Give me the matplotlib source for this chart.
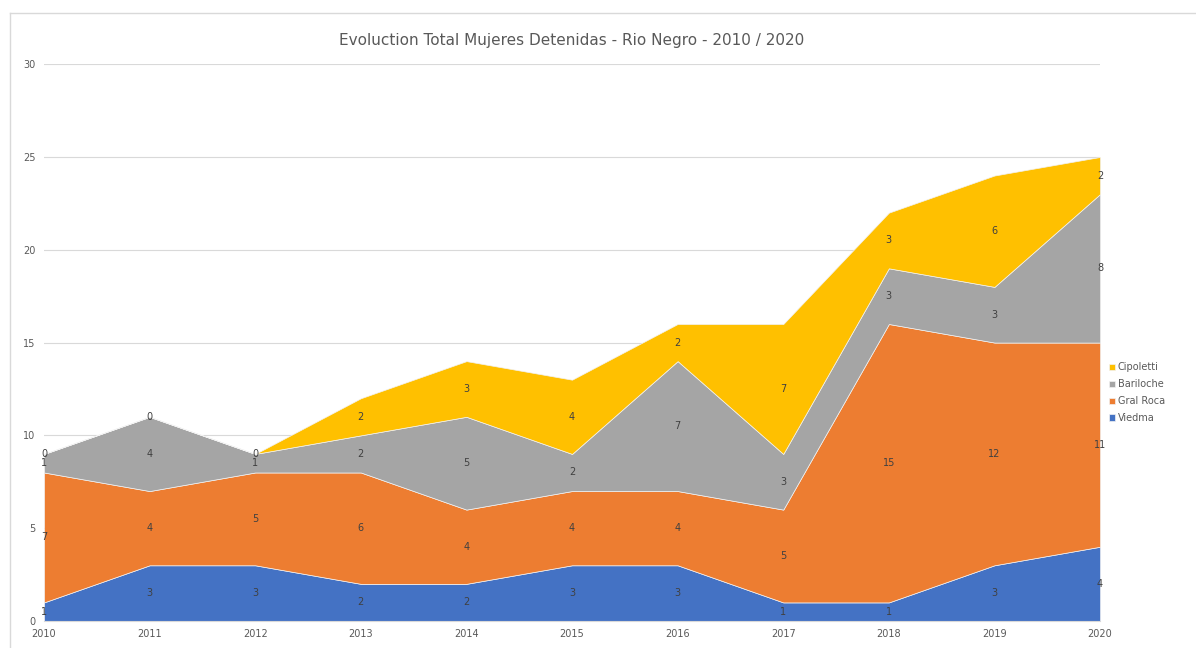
import numpy as np
import matplotlib.pyplot as plt
from matplotlib.lines import Line2D

years = [2010, 2011, 2012, 2013, 2014, 2015, 2016, 2017, 2018, 2019, 2020]
viedma = [1, 3, 3, 2, 2, 3, 3, 1, 1, 3, 4]
gral_roca = [7, 4, 5, 6, 4, 4, 4, 5, 15, 12, 11]
bariloche = [1, 4, 1, 2, 5, 2, 7, 3, 3, 3, 8]
cipoletti = [0, 0, 0, 2, 3, 4, 2, 7, 3, 6, 2]

series = [viedma, gral_roca, bariloche, cipoletti]
names = ["Viedma", "Gral Roca", "Bariloche", "Cipoletti"]
colors = ["#4472C4", "#ED7D31", "#A5A5A5", "#FFC000"]

fig = plt.figure(figsize=(11.96, 6.48), dpi=100)
ax = fig.add_axes([0.0368, 0.0417, 0.883, 0.8593])

polys = ax.stackplot(years, *series, colors=colors, labels=names,
                     edgecolor="#F2F2F2", linewidth=0.5)

# data labels in the middle of each band
base = np.zeros(len(years))
for vals in series:
    vals = np.array(vals)
    for x, b, v in zip(years, base, vals):
        ax.text(x, b + v / 2, str(v), ha="center", va="center", fontsize=7, color="#404040")
    base = base + vals

ax.set_xlim(2010, 2020)
ax.set_ylim(0, 30)
ax.set_yticks(range(0, 31, 5))
ax.set_xticks(years)
ax.grid(axis="y", color="#D9D9D9", linewidth=0.8)
ax.set_axisbelow(True)
for s in ["top", "right", "left"]:
    ax.spines[s].set_visible(False)
ax.spines["bottom"].set_color("#D9D9D9")
ax.tick_params(length=0, labelsize=7, colors="#595959", pad=6)

ax.set_title("Evoluction Total Mujeres Detenidas - Rio Negro - 2010 / 2020",
             fontsize=11, color="#595959", pad=14)

handles, labels = ax.get_legend_handles_labels()
ax.legend(handles[::-1], labels[::-1], loc="center left", bbox_to_anchor=(1.0, 0.41),
          frameon=False, fontsize=7, handlelength=0.6, handleheight=0.6,
          handletextpad=0.3, labelcolor="#595959", labelspacing=0.7)

# chart frame lines
fig.add_artist(Line2D([0.0085, 0.0085], [0, 0.98], color="#D9D9D9", lw=1))
fig.add_artist(Line2D([0.0085, 1.0], [0.98, 0.98], color="#D9D9D9", lw=1))

fig.savefig("out.png", dpi=100)
